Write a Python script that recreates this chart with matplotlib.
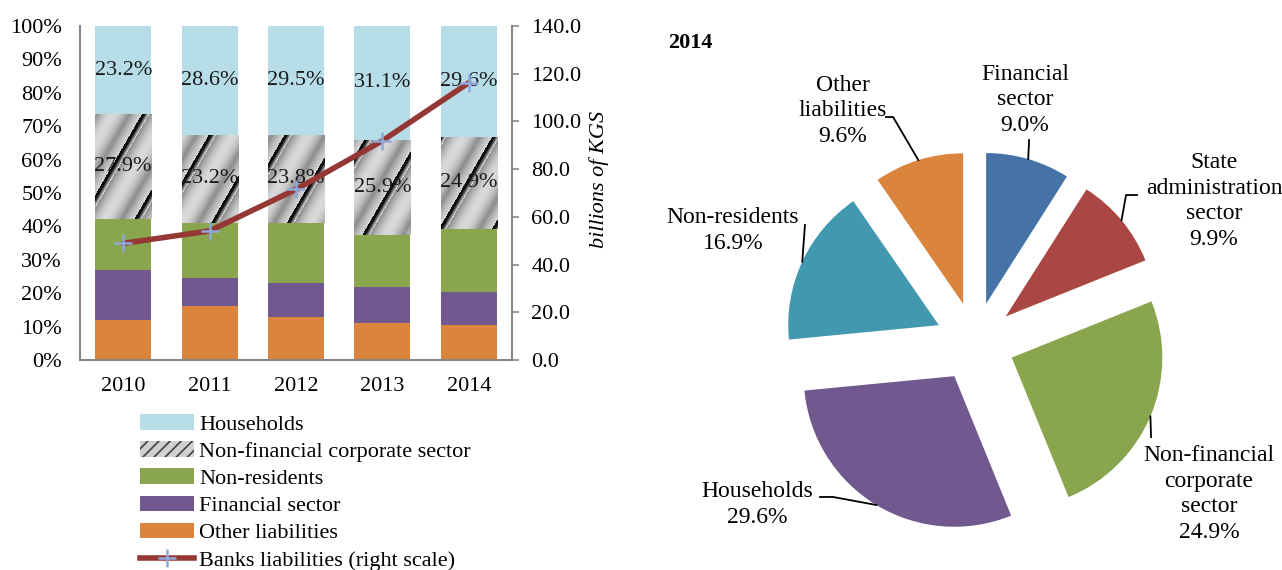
import matplotlib.pyplot as plt
import numpy as np
from matplotlib.patches import Patch
from matplotlib.lines import Line2D

plt.rcParams['font.family'] = ['Liberation Serif', 'DejaVu Serif']
plt.rcParams['hatch.linewidth'] = 1.2

# ---- data: left chart (shares of bank liabilities, %) ----
years = ['2010', '2011', '2012', '2013', '2014']
other_liab = [12.0, 16.2, 12.9, 11.2, 10.5]
financial = [14.9, 8.3, 10.1, 10.7, 9.9]
non_resid = [15.3, 16.6, 18.1, 15.5, 18.8]
non_fin_corp = [31.4, 26.3, 26.3, 28.5, 27.7]
households = [26.4, 32.6, 32.6, 34.1, 33.1]
nonfin_labels = ['27.9%', '23.2%', '23.8%', '25.9%', '24.9%']
house_labels = ['23.2%', '28.6%', '29.5%', '31.1%', '29.6%']
banks_liab = [48.9, 54.1, 71.5, 91.9, 116.2]   # billions of KGS

# ---- data: right chart (2014 structure) ----
pie_names = ['Financial\nsector', 'State\nadministration\nsector',
             'Non-financial\ncorporate\nsector', 'Households',
             'Non-residents', 'Other\nliabilities']
pie_vals = [9.0, 9.9, 24.9, 29.6, 16.9, 9.6]

c_house = '#B7DEE8'
c_green = '#89A54E'
c_purple = '#71588F'
c_orange = '#DB843D'
c_line = '#953735'
pie_colors = ['#4572A7', '#AA4643', '#89A54E', '#71588F', '#4198AF', '#DB843D']
spine_c = '#868686'

W, H = 12.82, 5.70
fig = plt.figure(figsize=(W, H), dpi=100)

# ---------------- left: stacked bars + line ----------------
ax = fig.add_axes([80 / 1282, 210 / 570, 432 / 1282, 334 / 570])
x = np.arange(len(years))
bw = 0.65
b0 = np.zeros(len(years))
ax.bar(x, other_liab, bw, bottom=b0, color=c_orange, lw=0)
b0 += other_liab
ax.bar(x, financial, bw, bottom=b0, color=c_purple, lw=0)
b0 += financial
ax.bar(x, non_resid, bw, bottom=b0, color=c_green, lw=0)
b0 += non_resid
nf_bars = ax.bar(x, non_fin_corp, bw, bottom=b0.copy(), color='#d2d2d2', lw=0)
nf_bottom = b0.copy()
b0 += non_fin_corp
ax.bar(x, households, bw, bottom=b0, color=c_house, lw=0)

# gradient stripe fill for the non-financial segments
px_x = 432 / 5.0       # px per x unit
px_y = 334 / 100.0     # px per %
ang = np.deg2rad(60)
for k, rect in enumerate(nf_bars):
    x0, y0 = rect.get_x(), rect.get_y()
    w, h = rect.get_width(), rect.get_height()
    nw, nh = int(w * px_x) + 1, int(h * px_y) + 1
    rr, cc = np.mgrid[0:nh, 0:nw]
    s = cc * np.sin(ang) - rr * np.cos(ang) + 12 + 9 * k
    t = (s / 46.0) % 1.0
    g = np.where(t < 0.05, 0.05,
                 np.where(t < 0.14, 0.05 + 0.85 * (t - 0.05) / 0.09,
                          0.55 + 0.3 * np.abs(np.sin(np.pi * (t - 0.14) * 1.6))))
    im = ax.imshow(g, extent=[x0, x0 + w, y0, y0 + h], origin='lower',
                   cmap='gray', vmin=0, vmax=1, aspect='auto',
                   interpolation='bilinear', zorder=2)
    im.set_clip_path(rect)

for i in range(len(years)):
    ax.text(x[i], nf_bottom[i] + non_fin_corp[i] / 2, nonfin_labels[i],
            ha='center', va='center', fontsize=16, color='#1a1a1a', zorder=3)
    ax.text(x[i], b0[i] + households[i] / 2, house_labels[i],
            ha='center', va='center', fontsize=16, color='#1a1a1a', zorder=3)

ax.set_xlim(-0.5, 4.5)
ax.set_ylim(0, 100)
ax.set_xticks(x)
ax.set_xticklabels(years)
ax.set_yticks(np.arange(0, 101, 10))
ax.set_yticklabels([f'{v}%' for v in range(0, 101, 10)])
ax.tick_params(axis='y', length=0, pad=13, labelsize=16)
ax.tick_params(axis='x', length=0, pad=12, labelsize=16)
for sp in ['top', 'right']:
    ax.spines[sp].set_visible(False)
for sp in ['left', 'bottom']:
    ax.spines[sp].set_color(spine_c)
    ax.spines[sp].set_linewidth(1.5)

ax2 = ax.twinx()
ax2.plot(x, banks_liab, color=c_line, lw=4, marker='+', ms=13,
         mec='#8EA9DB', mew=1.8, solid_capstyle='round')
ax2.set_ylim(0, 140)
ax2.set_yticks(np.arange(0, 141, 20))
ax2.set_yticklabels([f'{v:.1f}' for v in range(0, 141, 20)])
ax2.tick_params(axis='y', length=5, width=1.2, color=spine_c, pad=9, labelsize=16)
for sp in ['top', 'left', 'bottom']:
    ax2.spines[sp].set_visible(False)
ax2.spines['right'].set_color(spine_c)
ax2.spines['right'].set_linewidth(1.5)
ax2.set_ylabel('billions of KGS', fontsize=16, style='italic')
ax2.yaxis.set_label_coords(1.178, 0.54)

handles = [Patch(facecolor=c_house, lw=0),
           Patch(facecolor='#d0d0d0', edgecolor='#404040', hatch='///', lw=0),
           Patch(facecolor=c_green, lw=0),
           Patch(facecolor=c_purple, lw=0),
           Patch(facecolor=c_orange, lw=0),
           Line2D([], [], color=c_line, lw=4, marker='+', ms=13,
                  mec='#8EA9DB', mew=1.8)]
labels = ['Households', 'Non-financial corporate sector', 'Non-residents',
          'Financial sector', 'Other liabilities', 'Banks liabilities (right scale)']
fig.legend(handles, labels, loc='upper left', bbox_to_anchor=(140 / 1282, 1 - 414 / 570),
           frameon=False, fontsize=16, handlelength=2.45, handleheight=0.7,
           handletextpad=0.2, labelspacing=0.3, borderpad=0, borderaxespad=0)

# ---------------- right: exploded pie ----------------
R = 150.6
axp = fig.add_axes([(975 - 1.6 * R) / 1282, (228 - 1.6 * R) / 570,
                    3.2 * R / 1282, 3.2 * R / 570])
ex = 0.265
wedges, _ = axp.pie(pie_vals, colors=pie_colors, startangle=90, counterclock=False,
                    explode=[ex] * len(pie_vals), radius=1,
                    wedgeprops=dict(lw=0))
axp.set_xlim(-1.6, 1.6)
axp.set_ylim(-1.6, 1.6)
axp.axis('off')

# label layout: text centre and leader elbow(s) (pie radius units)
text_pos = [(0.332, 1.607), (1.587, 0.936), (1.553, -1.009),
            (-1.444, -1.079), (-1.607, 0.740), (-0.876, 1.534)]
elbows = [[(0.359, 1.341)],
          [(1.003, 0.976), (1.076, 0.976)],
          [(1.169, -0.631)],
          [(-0.943, -1.029), (-1.029, -1.029)],
          [(-1.129, 0.777)],
          [(-0.544, 1.494), (-0.591, 1.494)]]
for i, wdg in enumerate(wedges):
    mid = np.deg2rad((wdg.theta1 + wdg.theta2) / 2)
    cx, cy = wdg.center
    px, py = cx + np.cos(mid), cy + np.sin(mid)
    pts = [(px, py)] + elbows[i]
    axp.plot([p[0] for p in pts], [p[1] for p in pts], color='black', lw=1.3,
             clip_on=False)
    axp.text(text_pos[i][0], text_pos[i][1], f'{pie_names[i]}\n{pie_vals[i]:.1f}%',
             ha='center', va='center', fontsize=17, linespacing=1.28, clip_on=False)

fig.text(668 / 1282, 1 - 43 / 570, '2014', fontsize=16, fontweight='bold',
         ha='left', va='center')

fig.savefig('out.png', dpi=100)
